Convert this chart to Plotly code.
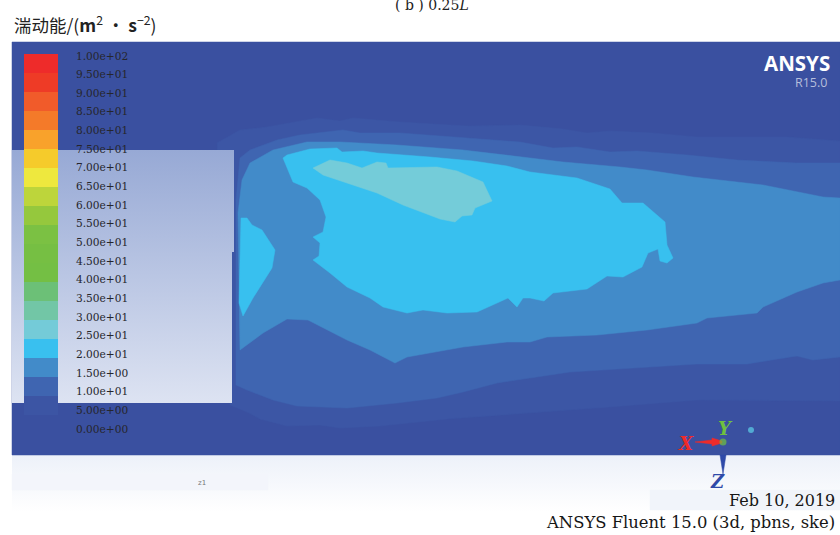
import plotly.graph_objects as go

# ---- contour regions (outline points) ----
domain_x = [12, 840, 840, 12]
domain_y = [42, 42, 455, 455]

level1_x = [217,240,267,317,340,353,400,467,520,563,587,610,653,697,787,840,
            840,697,597,530,447,380,340,320,287,260,247,230,226]
level1_y = [143,130,127,118,121,118,122,126,125,129,133,131,133,137,137,141,
            401,400,408,413,419,426,428,425,426,419,412,405,300]

level2_x = [236,240,250,277,300,343,360,400,467,520,553,577,610,637,687,737,797,840,
            840,813,797,770,747,697,630,570,530,497,463,437,397,347,297,273,247,236]
level2_y = [200,158,150,140,135,130,133,133,138,142,148,147,152,151,155,160,163,163,
            357,360,356,360,364,364,368,372,378,383,392,398,403,408,406,400,390,385]

level3_x = [238,242,250,262,273,307,340,397,463,530,563,620,647,693,763,823,840,
            840,823,797,763,757,707,697,647,597,547,530,507,463,407,395,370,347,308,287,263,240]
level3_y = [213,180,163,156,150,142,142,145,150,158,162,167,170,177,185,197,198,
            280,283,292,307,313,318,323,330,335,337,342,342,347,357,363,350,340,320,319,333,350]

level4_x = [283,287,310,337,342,363,377,430,473,507,530,577,610,622,643,665,667,673,667,660,658,648,642,623,607,587,553,544,
            530,523,517,508,497,477,447,423,407,383,370,347,330,313,319,320,313,323,326,320,307,293]
level4_y = [158,155,149,148,152,151,153,157,161,166,172,178,189,203,203,222,245,258,263,261,249,253,267,277,276,289,293,301,
            298,298,307,298,303,312,313,310,313,307,298,287,273,260,256,243,237,232,217,200,188,182]

pocket_x = [241,247,252,262,275,272,253,243,239]
pocket_y = [218,218,225,230,250,268,298,316,303]

level5_x = [313,330,347,362,377,386,388,437,457,483,492,475,472,462,455,440,403,377,347,323]
level5_y = [168,160,163,168,162,163,168,167,171,182,201,208,215,216,222,219,205,193,183,175]

regions = [
    (domain_x, domain_y, "#3A50A0"),
    (level1_x, level1_y, "#3C56A5"),
    (level2_x, level2_y, "#3F65B1"),
    (level3_x, level3_y, "#428BC9"),
    (level4_x, level4_y, "#38C0EF"),
    (pocket_x, pocket_y, "#38C0EF"),
    (level5_x, level5_y, "#74CCD9"),
]

# ---- colour legend ----
band_low = [95,90,85,80,75,70,65,60,55,50,45,40,35,30,25,20,15,10,5]
band_step = [5]*19
band_colors = ["#EE2B2A","#EE3B26","#F15B2A","#F47A29","#F9A22B","#F5CB2B","#EEE83E",
               "#BDD53B","#95C83D","#7BC143","#76BF43","#74BF44","#6CC077","#72C6A6",
               "#74CBD8","#39C0EF","#428BC9","#3F65B1","#3C55A4"]
legend_labels = ["1.00e+02","9.50e+01","9.00e+01","8.50e+01","8.00e+01","7.50e+01","7.00e+01",
                 "6.50e+01","6.00e+01","5.50e+01","5.00e+01","4.50e+01","4.00e+01","3.50e+01",
                 "3.00e+01","2.50e+01","2.00e+01","1.50e+00","1.00e+01","5.00e+00","0.00e+00"]

fig = go.Figure()

def poly(x, y, color):
    fig.add_trace(go.Scatter(x=x+x[:1], y=y+y[:1], mode="lines", fill="toself",
                             fillcolor=color, line=dict(color=color, width=0.5),
                             hoverinfo="skip", showlegend=False))

def grad(x, y, top, bottom, c0, c1):
    fig.add_trace(go.Scatter(x=x+x[:1], y=y+y[:1], mode="lines", fill="toself",
                             line=dict(width=0, color=c0), hoverinfo="skip", showlegend=False,
                             fillgradient=dict(type="vertical",
                                               colorscale=[[0, c0], [1, c1]],
                                               start=top, stop=bottom)))

# page strip below the domain
grad([12,840,840,12], [455,455,512,512], 512, 455, "#FFFFFF", "#EDF1F9")
poly([12,268,268,12], [474,474,490,490], "#F3F5FB")
poly([650,840,840,650], [490,490,510,510], "#F1F4FA")

for rx, ry, rc in regions:
    poly(rx, ry, rc)

# translucent legend backing
grad([12,234,234,232,232,12], [150,150,252,252,403,403], 403, 150, "#DDE3F2", "#97A9D5")

# triad
poly([695,712,712,722,722,712,712,695], [442,440,438,441,443,446,444,442], "#EE2B2A")
poly([720,726,723], [455,455,474], "#2F4AA8")
fig.add_trace(go.Scatter(x=[723,751], y=[442,430], mode="markers",
                         marker=dict(size=[7,6], color=["#6FC03F","#5CD0E8"], line=dict(width=0)),
                         hoverinfo="skip", showlegend=False))

# legend bars on a value axis laid over the picture
fig.add_trace(go.Bar(x=[41]*19, y=band_step, base=band_low, width=34,
                     marker=dict(color=band_colors, line=dict(width=0)),
                     yaxis="y2", hoverinfo="skip", showlegend=False))

anns = []
def txt(x, y, s, size, color, family, anchor="left", **kw):
    anns.append(dict(x=x, y=y, text=s, showarrow=False, xanchor=anchor, yanchor="middle",
                     xref="x", yref="y", font=dict(size=size, color=color, family=family), **kw))

for i, lab in enumerate(legend_labels):
    txt(74, 55.5 + 18.65*i, lab, 10.6, "#26262C", "DejaVu Serif")

txt(12, 24, "湍动能/(<b>m</b><sup>2</sup> · <b>s</b><sup>−2</sup>)", 17.5, "#222222", "Noto Sans CJK SC, DejaVu Serif")
txt(393, 5, "( b ) 0.25<i>L</i>", 14, "#222222", "DejaVu Serif")
txt(762, 63, "<b>ANSYS</b>", 20.5, "#FFFFFF", "Open Sans")
txt(829, 82, "R15.0", 12.5, "#B5BEDC", "Open Sans", anchor="right")
txt(686, 443, "<b><i>X</i></b>", 18, "#EE2B2A", "DejaVu Serif", anchor="center")
txt(725, 428, "<b><i>Y</i></b>", 18, "#6FC03F", "DejaVu Serif", anchor="center")
txt(717, 481, "<b><i>Z</i></b>", 18, "#2F4AA8", "DejaVu Serif", anchor="center")
txt(837, 500, "Feb 10, 2019", 16, "#161616", "DejaVu Serif", anchor="right")
txt(837, 522, "ANSYS Fluent 15.0 (3d, pbns, ske)", 16.4, "#161616", "DejaVu Serif", anchor="right")
txt(202, 483, "z1", 7, "#777777", "DejaVu Sans", anchor="center")

fig.update_layout(
    width=840, height=535, autosize=False,
    margin=dict(l=0, r=0, t=0, b=0),
    paper_bgcolor="#FFFFFF", plot_bgcolor="#FFFFFF",
    xaxis=dict(range=[0, 840], visible=False, domain=[0, 1], fixedrange=True),
    yaxis=dict(range=[535, 0], visible=False, domain=[0, 1], fixedrange=True),
    yaxis2=dict(range=[-26.6, 114.2], visible=False, overlaying="y", domain=[0, 1], fixedrange=True),
    annotations=anns, showlegend=False, bargap=0,
)
fig.write_html("out.html", config=dict(displayModeBar=False),
               post_script="document.body.style.margin='0';document.documentElement.style.overflow='hidden';")
